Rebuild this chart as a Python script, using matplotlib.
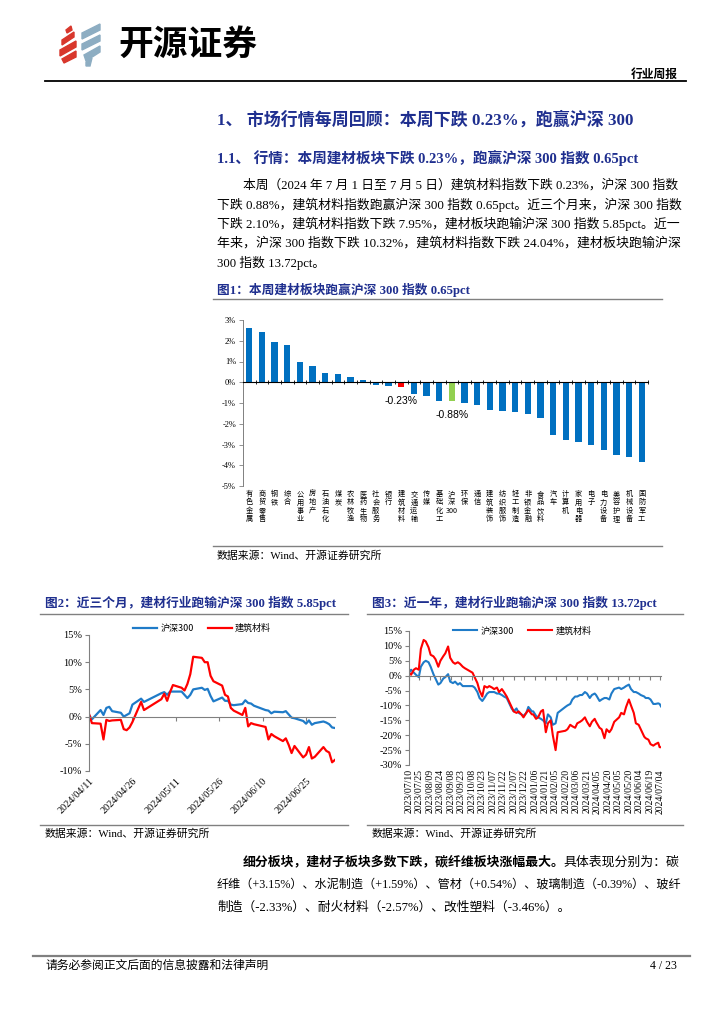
import matplotlib
matplotlib.use('Agg')
import matplotlib.pyplot as plt
from matplotlib.lines import Line2D
from matplotlib.patches import Polygon
import numpy as np
import pandas as pd

CJK = 'Noto Sans CJK SC'
SERIF = ['Liberation Serif', 'Noto Sans CJK SC']
SANS = ['Liberation Sans', 'Noto Sans CJK SC']
plt.rcParams['font.family'] = SERIF
plt.rcParams['axes.unicode_minus'] = False

NAVY = '#1F2F8F'
BAR_BLUE = '#0070C0'
LINE_BLUE = '#1F7BC8'
RED = '#FF0000'
GREEN = '#92D050'
GRAY = '#808080'

# ---------------- data ----------------
sectors = ['有色金属', '商贸零售', '钢铁', '综合', '公用事业', '房地产', '石油石化', '煤炭',
           '农林牧渔', '医药生物', '社会服务', '银行', '建筑材料', '交通运输', '传媒', '基础化工',
           '沪深300', '环保', '通信', '建筑装饰', '纺织服饰', '轻工制造', '非银金融', '食品饮料',
           '汽车', '计算机', '家用电器', '电子', '电力设备', '美容护理', '机械设备', '国防军工']
weekly_change = [2.62, 2.44, 1.93, 1.78, 0.98, 0.80, 0.43, 0.42,
                 0.26, 0.13, -0.14, -0.18, -0.23, -0.58, -0.64, -0.88,
                 -0.88, -0.98, -1.12, -1.32, -1.40, -1.45, -1.53, -1.70,
                 -2.52, -2.80, -2.88, -3.02, -3.25, -3.53, -3.58, -3.82]

dates_3m = ['2024-04-11', '2024-04-12', '2024-04-15', '2024-04-16', '2024-04-17', '2024-04-18', '2024-04-19',
            '2024-04-22', '2024-04-23', '2024-04-24', '2024-04-25', '2024-04-26', '2024-04-29', '2024-04-30',
            '2024-05-06', '2024-05-07', '2024-05-08', '2024-05-09', '2024-05-10',
            '2024-05-13', '2024-05-14', '2024-05-15', '2024-05-16', '2024-05-17',
            '2024-05-20', '2024-05-21', '2024-05-22', '2024-05-23', '2024-05-24',
            '2024-05-27', '2024-05-28', '2024-05-29', '2024-05-30', '2024-05-31',
            '2024-06-03', '2024-06-04', '2024-06-05', '2024-06-06', '2024-06-07',
            '2024-06-11', '2024-06-12', '2024-06-13', '2024-06-14',
            '2024-06-17', '2024-06-18', '2024-06-19', '2024-06-20', '2024-06-21',
            '2024-06-24', '2024-06-25', '2024-06-26', '2024-06-27', '2024-06-28',
            '2024-07-01', '2024-07-02', '2024-07-03', '2024-07-04', '2024-07-05']
hs300_3m = [0.3, -0.5, 1.2, 0.3, 1.6, 1.8, 1.0,
            0.7, 0.0, 0.3, 0.6, 2.2, 3.3, 2.7,
            4.3, 4.5, 4.0, 4.6, 4.6,
            4.6, 4.0, 3.4, 4.0, 5.0,
            5.3, 4.9, 5.1, 3.8, 2.8,
            3.5, 2.9, 2.9, 2.2, 2.1,
            2.3, 3.0, 2.5, 2.4, 2.0,
            1.2, 1.1, 0.6, 0.9,
            0.8, 1.0, 0.4, -0.2, -0.3,
            -0.8, -1.3, -0.7, -1.5, -1.2,
            -0.9, -1.1, -1.4, -2.0, -2.1]
jc_3m = [0.5, -1.2, -1.3, -4.2, -0.6, -0.8, -0.7,
         -0.6, -2.3, -2.5, -2.0, -1.0, 2.7, 1.2,
         3.2, 4.2, 2.9, 4.5, 5.8,
         5.3, 4.8, 6.0, 7.8, 11.0,
         10.8, 10.0, 10.0, 7.5, 6.5,
         5.7, 4.0, 3.7, 1.6, 1.1,
         0.3, 1.6, -1.8, -1.2, -1.4,
         -1.9, -4.2, -3.2, -3.6,
         -4.5, -4.0, -5.2, -6.7, -5.4,
         -7.5, -7.0, -5.6, -7.7, -7.4,
         -5.6, -6.3, -6.6, -8.4, -7.95]
ticks_3m = ['2024-04-11', '2024-04-26', '2024-05-11', '2024-05-26', '2024-06-10', '2024-06-25']

dates_1y = ['2023-07-10', '2023-07-13', '2023-07-17', '2023-07-20', '2023-07-24', '2023-07-27',
            '2023-07-31', '2023-08-03', '2023-08-07', '2023-08-10', '2023-08-14', '2023-08-17',
            '2023-08-21', '2023-08-24', '2023-08-28', '2023-08-31', '2023-09-04', '2023-09-07',
            '2023-09-11', '2023-09-14', '2023-09-18', '2023-09-21', '2023-09-25', '2023-09-28',
            '2023-10-09', '2023-10-12', '2023-10-16', '2023-10-19', '2023-10-23', '2023-10-26',
            '2023-10-30', '2023-11-02', '2023-11-06', '2023-11-09', '2023-11-13', '2023-11-16',
            '2023-11-20', '2023-11-23', '2023-11-27', '2023-11-30', '2023-12-04', '2023-12-07',
            '2023-12-11', '2023-12-14', '2023-12-18', '2023-12-21', '2023-12-25', '2023-12-28',
            '2024-01-02', '2024-01-04', '2024-01-08', '2024-01-11', '2024-01-15', '2024-01-18',
            '2024-01-22', '2024-01-25', '2024-01-29', '2024-02-01', '2024-02-05', '2024-02-08',
            '2024-02-19', '2024-02-22', '2024-02-26', '2024-02-29', '2024-03-04', '2024-03-07',
            '2024-03-11', '2024-03-14', '2024-03-18', '2024-03-21', '2024-03-25', '2024-03-28',
            '2024-04-01', '2024-04-03', '2024-04-08', '2024-04-11', '2024-04-15', '2024-04-18',
            '2024-04-22', '2024-04-25', '2024-04-29', '2024-05-06', '2024-05-09', '2024-05-13',
            '2024-05-16', '2024-05-20', '2024-05-23', '2024-05-27', '2024-05-30', '2024-06-03',
            '2024-06-06', '2024-06-11', '2024-06-13', '2024-06-17', '2024-06-20', '2024-06-24',
            '2024-06-27', '2024-07-01', '2024-07-03', '2024-07-05']
hs300_1y = [1.0, 2.0, 1.0, 0.3, -0.5, 3.0,
            4.5, 5.0, 4.5, 3.0, 0.5, -1.0,
            -3.0, -2.5, -1.0, -0.5, 0.5, -2.0,
            -2.5, -2.0, -3.0, -2.5, -3.5, -3.5,
            -3.5, -4.0, -5.5, -7.5, -8.5, -7.5,
            -6.0, -5.5, -5.5, -5.5, -6.0, -6.0,
            -6.5, -7.0, -7.5, -9.0, -11.0, -12.0,
            -11.0, -12.5, -13.0, -13.5, -12.5, -10.5,
            -12.0, -12.0, -13.5, -14.0, -14.5, -15.0,
            -16.0, -13.0, -14.0, -16.5, -16.0, -12.5,
            -10.5, -10.0, -9.5, -8.0, -7.0, -7.0,
            -6.5, -6.5, -5.5, -6.0, -7.5, -6.5,
            -6.0, -6.5, -8.5, -8.0, -7.5, -7.5,
            -8.0, -6.0, -4.5, -4.0, -4.5, -4.0,
            -3.5, -3.0, -4.5, -5.5, -5.5, -6.0,
            -6.5, -7.0, -7.5, -7.5, -8.0, -9.5,
            -9.5, -9.3, -9.5, -10.32]
jc_1y = [1.0, 0.3, 2.0, 2.5, 2.0, 9.0,
         12.0, 11.5, 9.5, 7.0, 6.5, 5.5,
         3.0, 5.0, 6.5, 7.5, 9.8, 6.0,
         4.5, 4.0, 4.5, 4.0, 3.0, 2.5,
         1.0, -0.5, -2.5, -5.0, -7.0, -3.5,
         -4.0, -3.5, -4.0, -4.5, -4.0, -5.5,
         -4.5, -5.5, -7.0, -8.5, -10.5, -12.0,
         -12.5, -12.0, -13.0, -14.0, -12.5, -11.5,
         -13.0, -13.0, -14.5, -14.0, -12.0, -11.5,
         -19.0, -16.0, -15.0, -20.0, -25.0, -19.0,
         -18.5, -18.0, -16.5, -17.0, -17.5, -16.0,
         -15.5, -15.0, -14.0, -15.5, -17.0, -15.5,
         -14.5, -15.5, -17.5, -18.0, -21.0, -18.0,
         -19.0, -18.0, -15.5, -14.0, -12.5, -13.0,
         -10.5, -8.0, -10.0, -12.5, -16.0, -16.5,
         -18.0, -20.5, -21.0, -21.5, -23.0, -23.5,
         -23.0, -22.5, -24.0, -24.04]
ticks_1y = [str(d.date()) for d in pd.date_range('2023-07-10', '2024-07-04', freq='15D')]

# ---------------- figure helpers ----------------
W, H = 724, 1024
fig = plt.figure(figsize=(7.24, 10.24), dpi=100)
renderer = fig.canvas.get_renderer()


def fx(x):
    return x / W


def fy(y):
    return 1 - y / H


def axrect(x0, y0, x1, y1):
    return [x0 / W, 1 - y1 / H, (x1 - x0) / W, (y1 - y0) / H]


def hline(y, x0, x1, color=GRAY, lw=1.0):
    fig.add_artist(Line2D([fx(x0), fx(x1)], [fy(y), fy(y)], color=color, lw=lw,
                          transform=fig.transFigure))


def txt(x, y, s, size, color='black', weight='normal', ha='left', va='center', family=SERIF):
    return fig.text(fx(x), fy(y), s, fontsize=size, color=color, fontweight=weight,
                    ha=ha, va=va, family=family)


def fit(x0, x1, y, s, size, **kw):
    """Left-aligned text whose font size is adjusted so it spans x0..x1."""
    t = txt(x0, y, s, size, **kw)
    w = t.get_window_extent(renderer=renderer).width
    t.set_fontsize(size * (x1 - x0) / w)
    return t


# ---------------- header ----------------
red_stripes = [[(62, 40), (74, 32), (74, 37), (62, 45)],
               [(60, 50), (76, 41), (76, 47), (60, 56)],
               [(62, 59), (76, 51), (76, 57), (64, 63)],
               [(66, 30), (71, 26), (72, 30), (67, 33)]]
blue_stripes = [[(82, 33), (100, 24), (100, 30), (82, 39)],
                [(82, 44), (100, 35), (100, 41), (82, 50)],
                [(84, 55), (100, 46), (100, 52), (86, 61)],
                [(86, 62), (92, 58), (90, 66), (86, 66)]]
for pts in red_stripes:
    fig.add_artist(Polygon([(fx(a), fy(b)) for a, b in pts], closed=True, color='#D8372C',
                           transform=fig.transFigure))
for pts in blue_stripes:
    fig.add_artist(Polygon([(fx(a), fy(b)) for a, b in pts], closed=True, color='#8DADC2',
                           transform=fig.transFigure))
txt(118, 44, '开源证券', 25, weight='bold', family=CJK)
txt(678, 74, '行业周报', 8.5, weight='bold', ha='right', family=CJK)
hline(81, 45, 686, color='black', lw=1.3)

# ---------------- section titles & body ----------------
fit(217, 633, 120, '1、 市场行情每周回顾：本周下跌 0.23%，跑赢沪深 300', 11.5, color=NAVY, weight='bold')
fit(217, 638, 158, '1.1、 行情：本周建材板块下跌 0.23%，跑赢沪深 300 指数 0.65pct', 10.2,
    color=NAVY, weight='bold')
body = ['本周（2024 年 7 月 1 日至 7 月 5 日）建筑材料指数下跌 0.23%，沪深 300 指数',
        '下跌 0.88%，建筑材料指数跑赢沪深 300 指数 0.65pct。近三个月来，沪深 300 指数',
        '下跌 2.10%，建筑材料指数下跌 7.95%，建材板块跑输沪深 300 指数 5.85pct。近一',
        '年来，沪深 300 指数下跌 10.32%，建筑材料指数下跌 24.04%，建材板块跑输沪深',
        '300 指数 13.72pct。']
for i, line in enumerate(body):
    y = 185 + 19.5 * i
    if i < len(body) - 1:
        fit(243 if i == 0 else 217, 679, y, line, 9.2)
    else:
        txt(217, y, line, 9.2)

# ---------------- chart 1 ----------------
fit(217, 470, 290, '图1：本周建材板块跑赢沪深 300 指数 0.65pct', 8.8, color=NAVY, weight='bold')
hline(299, 213, 662)
hline(546, 213, 662)
txt(217, 556, '数据来源：Wind、开源证券研究所', 7.8)

ax1 = fig.add_axes(axrect(243, 320, 648, 486))
n = len(sectors)
xpos = np.arange(n)
bar_colors = [RED if s == '建筑材料' else GREEN if s == '沪深300' else BAR_BLUE for s in sectors]
ax1.bar(xpos, weekly_change, width=0.5, color=bar_colors)
ax1.set_xlim(-0.5, n - 0.5)
ax1.set_ylim(-5, 3)
ax1.set_yticks(range(-5, 4))
ax1.set_yticklabels([f'{v}%' for v in range(-5, 4)])
for s in ['top', 'right']:
    ax1.spines[s].set_visible(False)
ax1.spines['left'].set_color(GRAY)
ax1.spines['left'].set_linewidth(0.7)
ax1.spines['bottom'].set_position(('data', 0))
ax1.spines['bottom'].set_color('black')
ax1.spines['bottom'].set_linewidth(0.8)
ax1.set_xticks(np.arange(-0.5, n, 1))
ax1.tick_params(axis='x', length=3, width=0.6, direction='inout', labelbottom=False)
ax1.tick_params(axis='y', length=3, width=0.6, color=GRAY, labelsize=6, pad=2)
for i, s in enumerate(sectors):
    lab = '沪\n深\n300' if s == '沪深300' else '\n'.join(s)
    ax1.text(i, -0.025, lab, transform=ax1.get_xaxis_transform(), ha='center', va='top',
             fontsize=5.2, family=CJK, linespacing=1.05)
for name in ['建筑材料', '沪深300']:
    i = sectors.index(name)
    v = weekly_change[i]
    ax1.text(i, v - 0.68, f'{v:.2f}%', ha='center', va='center', fontsize=7.5, family=SANS)

# ---------------- chart 2 ----------------
fit(45, 337, 603, '图2：近三个月，建材行业跑输沪深 300 指数 5.85pct', 9.5, color=NAVY, weight='bold')
hline(614, 40, 348)
hline(825, 40, 348)
txt(45, 834, '数据来源：Wind、开源证券研究所', 7.8)

ax2 = fig.add_axes(axrect(89, 635, 335, 771))
d2 = pd.to_datetime(dates_3m)
ax2.plot(d2, hs300_3m, color=LINE_BLUE, lw=1.6, label='沪深300')
ax2.plot(d2, jc_3m, color=RED, lw=1.6, label='建筑材料')
ax2.set_ylim(-10, 15)
ax2.set_yticks(range(-10, 16, 5))
ax2.set_yticklabels([f'{v}%' for v in range(-10, 16, 5)])
ax2.set_xlim(pd.Timestamp('2024-04-11'), pd.Timestamp('2024-07-05'))
t2 = pd.to_datetime(ticks_3m)
ax2.set_xticks(t2)
for s in ['top', 'right']:
    ax2.spines[s].set_visible(False)
ax2.spines['left'].set_color(GRAY)
ax2.spines['bottom'].set_position(('data', 0))
ax2.spines['bottom'].set_color(GRAY)
ax2.tick_params(axis='x', length=3, color=GRAY, labelbottom=False)
ax2.tick_params(axis='y', length=3, color=GRAY, labelsize=7.5, pad=2)
for t in t2:
    ax2.text(t, -0.04, t.strftime('%Y/%m/%d'), transform=ax2.get_xaxis_transform(),
             rotation=45, rotation_mode='anchor', ha='right', va='top', fontsize=7.3)
ax2.legend(loc='center', bbox_to_anchor=(0.46, 1.05), ncol=2, frameon=False,
           prop={'family': CJK, 'size': 6.5}, handlelength=2.6, columnspacing=1.6,
           handletextpad=0.4, borderaxespad=0)

# ---------------- chart 3 ----------------
fit(372, 657, 603, '图3：近一年，建材行业跑输沪深 300 指数 13.72pct', 9.5, color=NAVY, weight='bold')
hline(614, 367, 683)
hline(825, 367, 683)
txt(372, 834, '数据来源：Wind、开源证券研究所', 7.8)

ax3 = fig.add_axes(axrect(409, 631, 661, 765))
d3 = pd.to_datetime(dates_1y)
ax3.plot(d3, hs300_1y, color=LINE_BLUE, lw=1.5, label='沪深300')
ax3.plot(d3, jc_1y, color=RED, lw=1.5, label='建筑材料')
ax3.set_ylim(-30, 15)
ax3.set_yticks(range(-30, 16, 5))
ax3.set_yticklabels([f'{v}%' for v in range(-30, 16, 5)])
ax3.set_xlim(pd.Timestamp('2023-07-10'), pd.Timestamp('2024-07-05'))
t3 = pd.to_datetime(ticks_1y)
ax3.set_xticks(t3)
for s in ['top', 'right']:
    ax3.spines[s].set_visible(False)
ax3.spines['left'].set_color(GRAY)
ax3.spines['bottom'].set_position(('data', 0))
ax3.spines['bottom'].set_color(GRAY)
ax3.tick_params(axis='x', length=3, color=GRAY, labelbottom=False)
ax3.tick_params(axis='y', length=3, color=GRAY, labelsize=7.5, pad=2)
for t in t3:
    ax3.text(t, -0.03, t.strftime('%Y/%m/%d'), transform=ax3.get_xaxis_transform(),
             rotation=90, ha='center', va='top', fontsize=7)
ax3.legend(loc='center', bbox_to_anchor=(0.45, 1.0), ncol=2, frameon=False,
           prop={'family': CJK, 'size': 6.5}, handlelength=2.6, columnspacing=1.6,
           handletextpad=0.4, borderaxespad=0)

# ---------------- bottom paragraph ----------------
base = 9.2
b1 = txt(243, 862, '细分板块，建材子板块多数下跌，碳纤维板块涨幅最大。', base, weight='bold')
b2 = txt(243, 862, '具体表现分别为：碳', base)
w1 = b1.get_window_extent(renderer=renderer).width
w2 = b2.get_window_extent(renderer=renderer).width
scale = (679 - 243) / (w1 + w2)
b1.set_fontsize(base * scale)
b2.set_fontsize(base * scale)
b2.set_x(fx(243 + w1 * scale))
fit(217, 679, 885, '纤维（+3.15%）、水泥制造（+1.59%）、管材（+0.54%）、玻璃制造（-0.39%）、玻纤', base)
txt(217, 908, '制造（-2.33%）、耐火材料（-2.57%）、改性塑料（-3.46%）。', base)

# ---------------- footer ----------------
hline(956, 33, 690, color=GRAY, lw=1.6)
txt(45, 966, '请务必参阅正文后面的信息披露和法律声明', 8.5)
txt(677, 966, '4 / 23', 8.5, ha='right')

fig.savefig('out.png', dpi=100)
